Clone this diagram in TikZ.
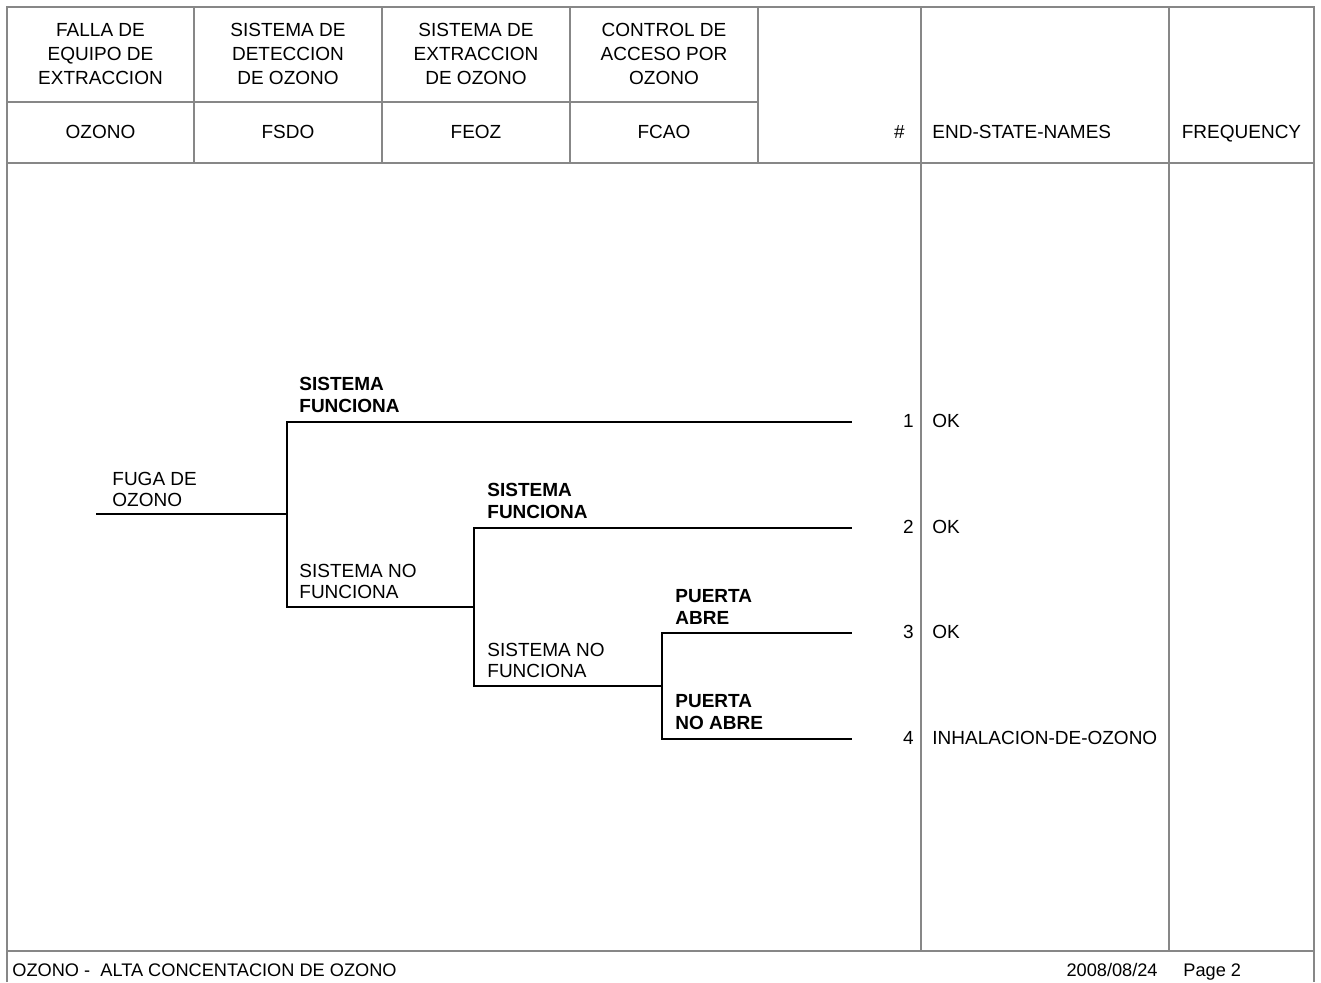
\documentclass[tikz,border=0pt]{standalone}
\usepackage{fontspec}
\setmainfont{Liberation Sans}
\definecolor{rulegray}{RGB}{135,135,135}
\begin{document}
\begin{tikzpicture}[x=0.5pt,y=-0.5pt,
  frame/.style={draw=rulegray,line width=0.8pt},
  branch/.style={draw=black,line width=1.45pt,line cap=rect},
  headtxt/.style={align=center,inner sep=0pt,font=\fontsize{9.5}{12}\selectfont},
  coltxt/.style={inner sep=0pt,font=\fontsize{9.5}{12}\selectfont},
  lbl/.style={align=left,inner sep=0pt,anchor=south west,font=\fontsize{9.5}{10.5}\selectfont},
  blbl/.style={lbl,font=\fontsize{9.5}{11}\selectfont\bfseries},
  endtxt/.style={inner sep=0pt,font=\fontsize{9.5}{12}\selectfont},
  foottxt/.style={inner sep=0pt,font=\fontsize{9.1}{11}\selectfont}]
\useasboundingbox (0,0) rectangle (1321,982);
% frame
\draw[frame] (7,982) -- (7,7) -- (1314,7) -- (1314,982);
\draw[frame] (7,102) -- (758,102);
\draw[frame] (7,163) -- (1314,163);
\draw[frame] (7,951) -- (1314,951);
\foreach \x in {194,382,570,758} \draw[frame] (\x,7) -- (\x,163);
\foreach \x in {921,1169} \draw[frame] (\x,7) -- (\x,951);
% header
\node[headtxt] (h1) at (100.5,54) {FALLA DE\\EQUIPO DE\\EXTRACCION};
\node[headtxt] (h2) at (288,54) {SISTEMA DE\\DETECCION\\DE OZONO};
\node[headtxt] (h3) at (476,54) {SISTEMA DE\\EXTRACCION\\DE OZONO};
\node[headtxt] (h4) at (664,54) {CONTROL DE\\ACCESO POR\\OZONO};
\node[coltxt,anchor=base] (c1) at (100.5,138) {OZONO};
\node[coltxt,anchor=base] (c2) at (288,138) {FSDO};
\node[coltxt,anchor=base] (c3) at (476,138) {FEOZ};
\node[coltxt,anchor=base] (c4) at (664,138) {FCAO};
\node[coltxt,anchor=base east] (c5) at (905,138) {\#};
\node[coltxt,anchor=base west] (c6) at (932,138) {END-STATE-NAMES};
\node[coltxt,anchor=base] (c7) at (1241.5,138) {FREQUENCY};
% tree points
\coordinate (i0) at (97,514);
\coordinate (a0) at (287,514);
\coordinate (a1) at (287,422);
\coordinate (a2) at (287,607);
\coordinate (b0) at (474,607);
\coordinate (b1) at (474,528);
\coordinate (b2) at (474,686);
\coordinate (d0) at (662,686);
\coordinate (d1) at (662,633);
\coordinate (d2) at (662,739);
\coordinate (e1) at (851,422);
\coordinate (e2) at (851,528);
\coordinate (e3) at (851,633);
\coordinate (e4) at (851,739);
\draw[branch] (i0) -- (a0);
\draw[branch] (e1) -- (a1) -- (a2) -- (b0);
\draw[branch] (e2) -- (b1) -- (b2) -- (d0);
\draw[branch] (e3) -- (d1) -- (d2) -- (e4);
% tree labels
\node[lbl] (l0) at (112,507) {FUGA DE\\OZONO};
\node[blbl] (l1) at (299,413.5) {SISTEMA\\FUNCIONA};
\node[lbl] (l2) at (299,599.5) {SISTEMA NO\\FUNCIONA};
\node[blbl] (l3) at (487,519.5) {SISTEMA\\FUNCIONA};
\node[lbl] (l4) at (487,678.5) {SISTEMA NO\\FUNCIONA};
\node[blbl] (l5) at (675,624.5) {PUERTA\\ABRE};
\node[blbl] (l6) at (675,730.5) {PUERTA\\NO ABRE};
% end states
\node[endtxt,anchor=base east] (n1) at (914,427) {1};
\node[endtxt,anchor=base east] (n2) at (914,533) {2};
\node[endtxt,anchor=base east] (n3) at (914,638) {3};
\node[endtxt,anchor=base east] (n4) at (914,744) {4};
\node[endtxt,anchor=base west] (s1) at (932,427) {OK};
\node[endtxt,anchor=base west] (s2) at (932,533) {OK};
\node[endtxt,anchor=base west] (s3) at (932,638) {OK};
\node[endtxt,anchor=base west] (s4) at (932,744) {INHALACION-DE-OZONO};
% footer
\node[foottxt,anchor=base west] (f1) at (12,976.5) {OZONO -\ \ ALTA CONCENTACION DE OZONO};
\node[foottxt,anchor=base east] (f2) at (1158,976.5) {2008/08/24};
\node[foottxt,anchor=base west] (f3) at (1183,976.5) {Page 2};
\end{tikzpicture}
\end{document}
